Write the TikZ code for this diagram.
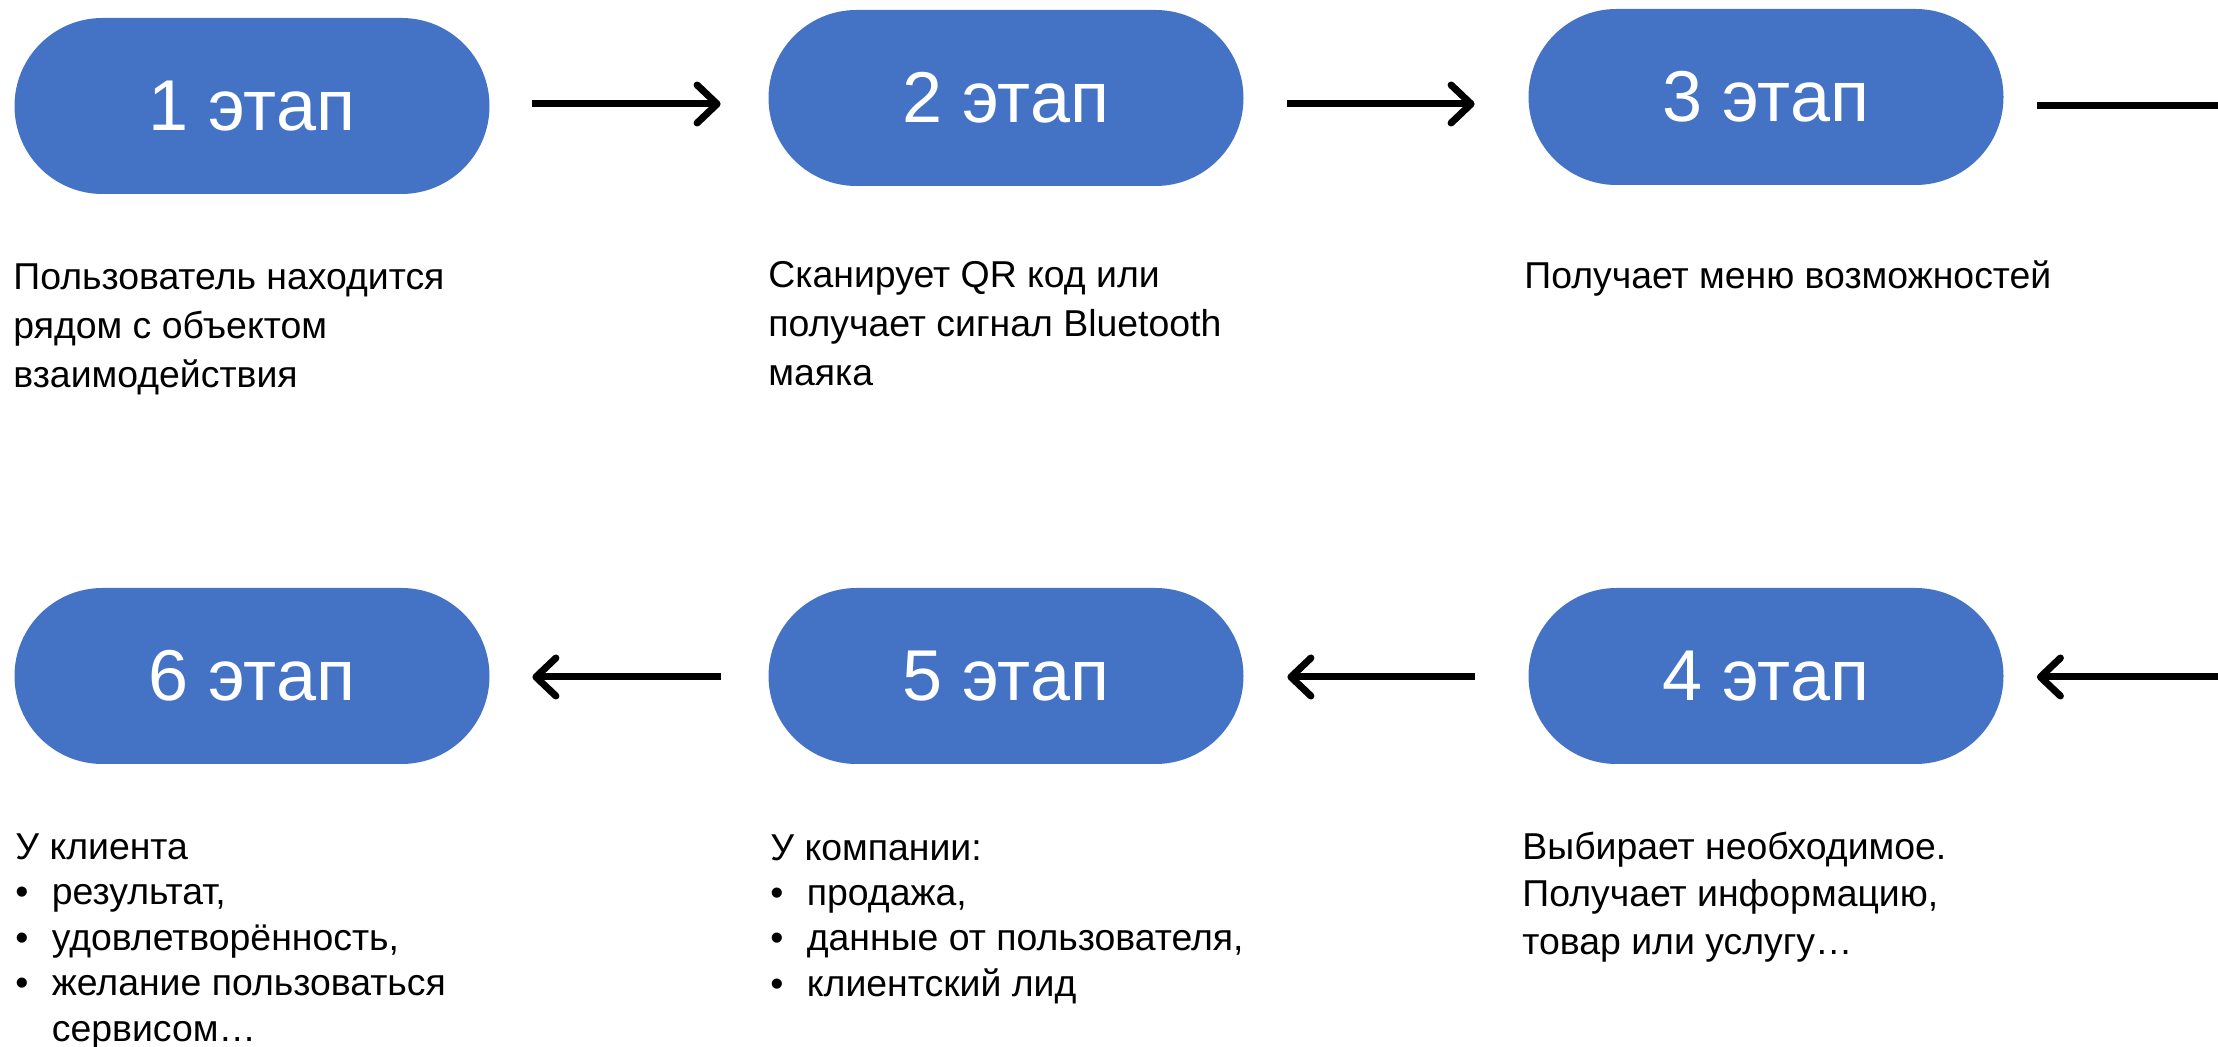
\documentclass[tikz,border=0pt]{standalone}
\usepackage{fontspec}
\setmainfont{Liberation Sans}
\usetikzlibrary{arrows.meta}
\definecolor{pillblue}{HTML}{4472C4}
\newcommand{\blt}{\makebox[18.25pt][l]{•}}
\begin{document}
\begin{tikzpicture}[x=0.5pt,y=-0.5pt,
  pill/.style={fill=pillblue, rounded corners=44pt, minimum width=237.5pt,
    minimum height=88pt, inner sep=0pt, text=white,
    font=\fontsize{36}{40}\selectfont},
  desc/.style={anchor=base west, inner sep=0pt, align=left,
    font=\fontsize{18.7}{24.5}\selectfont},
  arr/.style={line width=3.5pt, line join=round,
    -{Straight Barb[length=10pt,width=19pt,line join=round,line cap=round]}},
  plain/.style={line width=3.5pt}]
\useasboundingbox (0,0) rectangle (2218,1047);

% pills
\node[pill] (p1) at (252,106) {1 этап};
\node[pill] (p2) at (1006,98) {2 этап};
\node[pill] (p3) at (1766,97) {3 этап};
\node[pill] (p6) at (252,676) {6 этап};
\node[pill] (p5) at (1006,676) {5 этап};
\node[pill] (p4) at (1766,676) {4 этап};

% free ends at the right edge
\coordinate (e3) at (2218,106);
\coordinate (e4) at (2218,677);

% connectors
\draw[arr] ([xshift=21.25pt,yshift=1pt]p1.east) -- ([xshift=-23.75pt,yshift=-3pt]p2.west);
\draw[arr] ([xshift=21.75pt,yshift=-3pt]p2.east) -- ([xshift=-26.75pt,yshift=-3.5pt]p3.west);
\draw[plain] ([xshift=16.75pt,yshift=-4.5pt]p3.east) -- (e3);
\draw[arr] (e4) -- ([xshift=16.5pt,yshift=-0.5pt]p4.east);
\draw[arr] ([xshift=-26.75pt,yshift=-0.5pt]p4.west) -- ([xshift=21.75pt,yshift=-0.5pt]p5.east);
\draw[arr] ([xshift=-23.75pt,yshift=-0.5pt]p5.west) -- ([xshift=21.25pt,yshift=-0.5pt]p6.east);

% descriptions (anchored at the baseline of their last line)
\node[desc] (d1) at (13,388) {Пользователь находится\\рядом с объектом\\взаимодействия};
\node[desc] (d2) at (768,386) {Сканирует QR код или\\получает сигнал Bluetooth\\маяка};
\node[desc] (d3) at (1524,289) {Получает меню возможностей};
\node[desc, font=\fontsize{18.7}{22.7}\selectfont] (d6) at (15,1041)
  {У клиента\\\blt результат,\\\blt удовлетворённость,\\\blt желание пользоваться\\\hspace*{18.25pt}сервисом…};
\node[desc, font=\fontsize{18.7}{22.6}\selectfont] (d5) at (770,996)
  {У компании:\\\blt продажа,\\\blt данные от пользователя,\\\blt клиентский лид};
\node[desc, font=\fontsize{18.7}{23.6}\selectfont] (d4) at (1522,954)
  {Выбирает необходимое.\\Получает информацию,\\товар или услугу…};
\end{tikzpicture}
\end{document}
